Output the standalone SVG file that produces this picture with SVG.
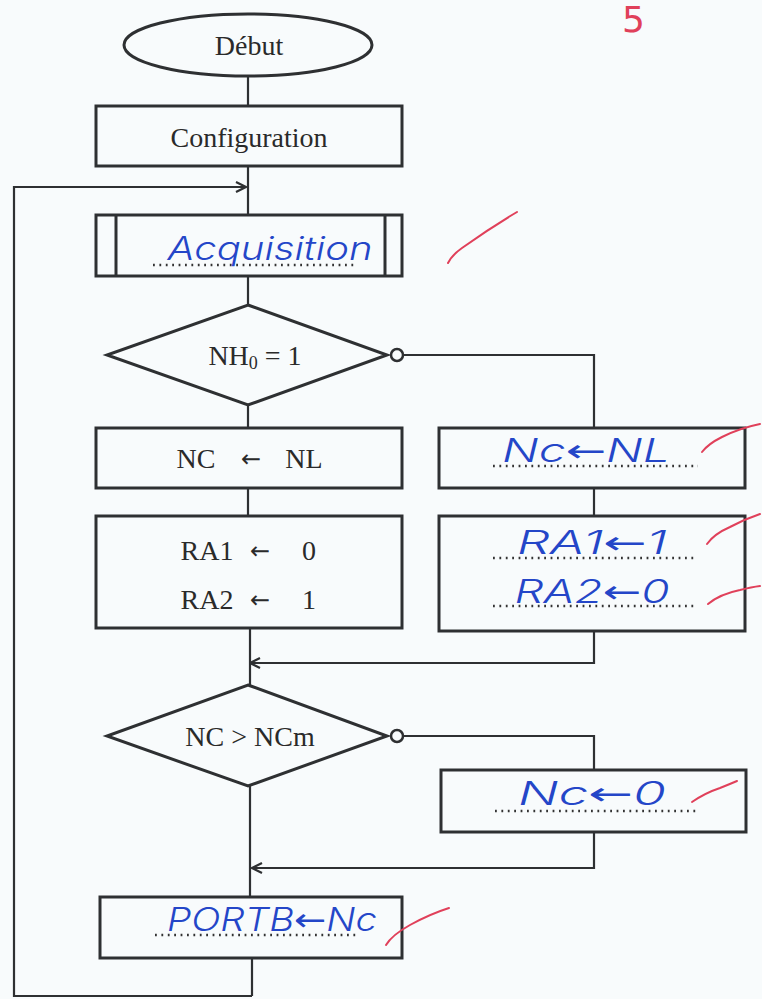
<svg xmlns="http://www.w3.org/2000/svg" width="762" height="999" viewBox="0 0 762 999">
<defs>
<style>
.box{fill:none;stroke:#2e3032;stroke-width:3}
.ln{fill:none;stroke:#2e3032;stroke-width:2.2}
.pt{font-family:"Liberation Serif",serif;font-size:28px;fill:#2a2a2a;text-anchor:middle}
.ar{font-family:"DejaVu Sans",sans-serif;font-size:24px;fill:#2a2a2a;text-anchor:middle}
.hw{font-family:Inter,"Liberation Sans",sans-serif;font-style:italic;font-weight:300;font-size:32px;fill:#2446c8;text-anchor:middle}
.ha{font-family:"DejaVu Sans",sans-serif;font-style:normal;font-weight:normal}
.dot{fill:none;stroke:#333;stroke-width:2.6;stroke-dasharray:1.8 4.6}
.chk{fill:none;stroke:#e0405a;stroke-width:2;stroke-linecap:round}
</style>
<marker id="ah" viewBox="0 0 12 12" refX="11" refY="6" markerWidth="12" markerHeight="12" markerUnits="userSpaceOnUse" orient="auto">
<path d="M1,1 L11,6 L1,11" fill="none" stroke="#2e3032" stroke-width="2.2"/>
</marker>
</defs>
<rect width="762" height="999" fill="#f8fbfc"/>

<g id="connectors">
<path class="ln" d="M248,76 V106"/>
<path class="ln" d="M248,166 V215"/>
<path class="ln" d="M252,996 H14 V187 H246" marker-end="url(#ah)"/>
<path class="ln" d="M248,276 V305"/>
<path class="ln" d="M402,355 H594 V428"/>
<path class="ln" d="M248,405 V428"/>
<path class="ln" d="M248,488 V516"/>
<path class="ln" d="M594,488 V516"/>
<path class="ln" d="M594,631 V663 H250" marker-end="url(#ah)"/>
<path class="ln" d="M250,628 V685"/>
<path class="ln" d="M402,736 H594 V770"/>
<path class="ln" d="M594,832 V868 H252" marker-end="url(#ah)"/>
<path class="ln" d="M250,786 V897"/>
<path class="ln" d="M252,958 V996"/>
</g>

<g id="debut">
<ellipse class="box" cx="248" cy="45" rx="124" ry="31"/>
<text class="pt" x="249" y="55">Début</text>
</g>

<g id="configuration">
<rect class="box" x="96" y="106" width="306" height="60"/>
<text class="pt" x="249" y="147">Configuration</text>
</g>

<g id="acquisition">
<rect class="box" x="96" y="215" width="306" height="61"/>
<path class="box" d="M116,215 V276 M385,215 V276"/>
<path class="dot" d="M153,265 H356"/>
<text class="hw" x="270" y="260" textLength="205" lengthAdjust="spacingAndGlyphs">Acquisition</text>
</g>

<g id="test-nh0">
<path class="box" d="M248,305 L387,355 L248,405 L107,355 Z"/>
<circle cx="397" cy="355" r="6" fill="#f8fbfc" stroke="#2e3032" stroke-width="2.5"/>
<text class="pt" x="255" y="365">NH<tspan font-size="18" dy="4">0</tspan><tspan dy="-4"> = 1</tspan></text>
</g>

<g id="nc-nl">
<rect class="box" x="96" y="428" width="306" height="60"/>
<text class="pt" x="196" y="468">NC</text>
<text class="ar" x="251" y="467">←</text>
<text class="pt" x="304" y="468">NL</text>
</g>

<g id="nc-nl-b">
<rect class="box" x="439" y="428" width="306" height="60"/>
<path class="dot" d="M493,466 H698"/>
<text class="hw" x="586" y="462" textLength="168" lengthAdjust="spacingAndGlyphs">Nc<tspan class="ha">←</tspan>NL</text>
</g>

<g id="ra-set">
<rect class="box" x="96" y="516" width="306" height="112"/>
<text class="pt" x="207" y="560">RA1</text>
<text class="ar" x="260" y="559">←</text>
<text class="pt" x="309" y="560">0</text>
<text class="pt" x="207" y="609">RA2</text>
<text class="ar" x="260" y="608">←</text>
<text class="pt" x="309" y="609">1</text>
</g>

<g id="ra-set-b">
<rect class="box" x="439" y="516" width="306" height="115"/>
<path class="dot" d="M493,558 H697"/>
<path class="dot" d="M493,606 H697"/>
<text class="hw" x="592" y="554" textLength="150" lengthAdjust="spacingAndGlyphs">RA1<tspan class="ha">←</tspan>1</text>
<text class="hw" x="592" y="603" textLength="155" lengthAdjust="spacingAndGlyphs">RA2<tspan class="ha">←</tspan>0</text>
</g>

<g id="test-ncm">
<path class="box" d="M248,685 L387,736 L248,786 L107,736 Z"/>
<circle cx="397" cy="736" r="6" fill="#f8fbfc" stroke="#2e3032" stroke-width="2.5"/>
<text class="pt" x="250" y="746">NC &gt; NCm</text>
</g>

<g id="nc-zero">
<rect class="box" x="441" y="770" width="305" height="62"/>
<path class="dot" d="M495,811 H696"/>
<text class="hw" x="592" y="805" textLength="148" lengthAdjust="spacingAndGlyphs">Nc<tspan class="ha">←</tspan>0</text>
</g>

<g id="portb">
<rect class="box" x="100" y="897" width="302" height="61"/>
<path class="dot" d="M155,935 H356"/>
<text class="hw" x="272" y="931" textLength="210" lengthAdjust="spacingAndGlyphs">PORTB<tspan class="ha">←</tspan>Nc</text>
</g>

<g id="marks">
<text x="622" y="32" font-family="DejaVu Sans,sans-serif" font-size="36" fill="#e0405a">5</text>
<path class="chk" d="M448,263 Q452,255 462,248 Q490,228 517,212"/>
<path class="chk" d="M702,452 Q708,444 722,437 Q740,428 760,424"/>
<path class="chk" d="M707,544 Q714,534 730,527 Q745,519 760,514"/>
<path class="chk" d="M708,604 Q720,594 740,590 Q752,587 760,586"/>
<path class="chk" d="M692,802 Q705,793 720,788 Q730,784 737,781"/>
<path class="chk" d="M386,945 Q392,935 410,925 Q430,914 449,908"/>
</g>
</svg>
